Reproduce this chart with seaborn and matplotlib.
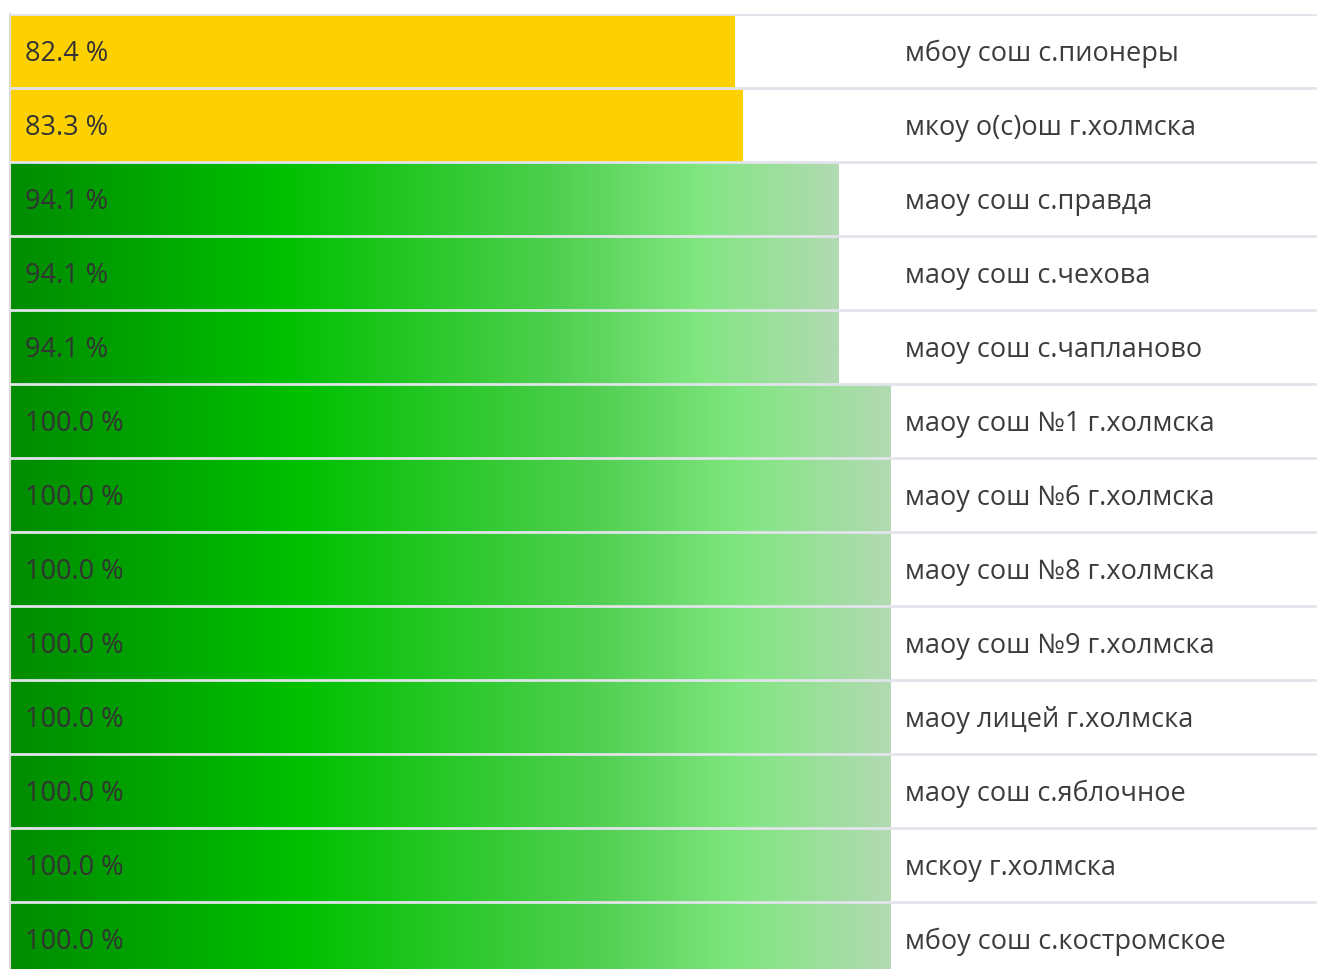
import numpy as np
import matplotlib
matplotlib.use("Agg")
import matplotlib.pyplot as plt
import seaborn as sns
from matplotlib.colors import LinearSegmentedColormap

# данные
schools = [
    "мбоу сош с.пионеры",
    "мкоу о(с)ош г.холмска",
    "маоу сош с.правда",
    "маоу сош с.чехова",
    "маоу сош с.чапланово",
    "маоу сош №1 г.холмска",
    "маоу сош №6 г.холмска",
    "маоу сош №8 г.холмска",
    "маоу сош №9 г.холмска",
    "маоу лицей г.холмска",
    "маоу сош с.яблочное",
    "мскоу г.холмска",
    "мбоу сош с.костромское",
]
percent = [82.4, 83.3, 94.1, 94.1, 94.1, 100.0, 100.0, 100.0, 100.0, 100.0, 100.0, 100.0, 100.0]

YELLOW = "#FDD000"
threshold = 90

sns.set_theme(style="white")
plt.rcParams["font.family"] = ["Open Sans", "DejaVu Sans"]

W, H = 1317, 969
fig = plt.figure(figsize=(W / 100, H / 100), dpi=100)
row_px = 74
top_px = 14
left_px = 10
ax = fig.add_axes([left_px / W, 0, (W - left_px) / W, (H - top_px) / H])

colors = {s: (YELLOW if v < threshold else "#00C000") for s, v in zip(schools, percent)}
sns.barplot(x=percent, y=schools, hue=schools, palette=colors, orient="h",
            width=1.0, legend=False, ax=ax, linewidth=0, saturation=1)

# градиент для зелёных полос (по длине каждой полосы)
green_cmap = LinearSegmentedColormap.from_list(
    "g", [(0.0, "#008C00"), (0.33, "#00C000"), (0.67, "#52D052"),
          (0.83, "#80E680"), (1.0, "#B2DAB2")])
grad = np.linspace(0, 1, 512).reshape(1, -1)
for patch, v in zip(ax.patches, percent):
    if v < threshold:
        continue
    x0, y0 = patch.get_x(), patch.get_y()
    w, h = patch.get_width(), patch.get_height()
    im = ax.imshow(grad, cmap=green_cmap, aspect="auto",
                   extent=(x0, x0 + w, y0 + h, y0), zorder=2, interpolation="bilinear")
    im.set_clip_path(patch)

px_per_unit = 880 / 100
ax.set_xlim(0, (W - left_px) / px_per_unit)
n_visible = (H - top_px) / row_px
ax.set_ylim(-0.5 + n_visible, -0.5)

# разделители строк
for i in range(len(schools)):
    ax.axhline(i - 0.5, color="#E1E4EA", lw=2, zorder=3)

# подписи
dy = 3 / row_px
for i, (s, v) in enumerate(zip(schools, percent)):
    ax.text(15 / px_per_unit, i + dy, f"{v:.1f} %", va="center", ha="left",
            fontsize=19.5, color="#333333", zorder=4)
    ax.text((905 - left_px) / px_per_unit, i + dy, s, va="center", ha="left",
            fontsize=19.5, color="#3C3C3C", zorder=4)

ax.set_xticks([])
ax.set_yticks([])
ax.set_xlabel("")
ax.set_ylabel("")
for side in ["top", "right", "bottom"]:
    ax.spines[side].set_visible(False)
ax.spines["left"].set_color("#DADADA")
ax.spines["left"].set_linewidth(1.5)

fig.savefig("out.png", dpi=100)
